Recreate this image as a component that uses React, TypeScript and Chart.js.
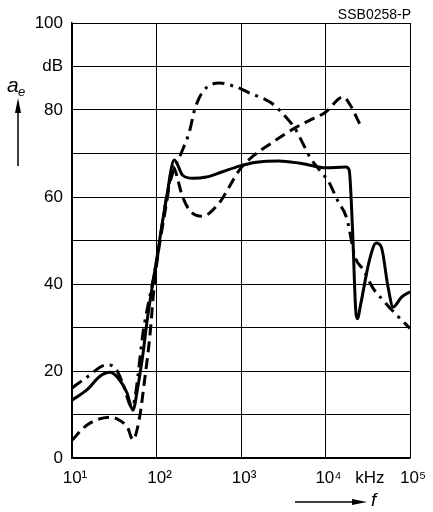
import React, { useEffect, useRef } from "react";
import { Chart, registerables } from "chart.js";

Chart.register(...registerables);

// frequency in kHz, attenuation in dB
const solidFreq = [10, 15.1, 21.4, 28.2, 34.7, 44.7, 52.5, 60.3, 69.2, 77.6, 100, 131.8, 162.2, 204, 269, 389, 603, 955, 1514, 2818, 4786, 8318, 10000, 17378, 19055, 20893, 22909, 23988, 25704, 33113, 39811, 45709, 54954, 63096, 79433, 100000];
const solidDb = [13.3, 15.7, 18.8, 19.7, 18.5, 15, 11, 16.5, 24, 31.7, 45.5, 60, 68.5, 65, 64.3, 64.6, 65.8, 67.1, 68, 68.3, 67.8, 66.9, 66.7, 66.9, 66.2, 52.4, 33.3, 32, 34.7, 45.5, 49.4, 48.5, 39.3, 34.7, 37, 38.2];

const dashedFreq = [10, 15.1, 28.2, 36.3, 45.7, 52.5, 63.1, 72.4, 83.2, 95.5, 134.9, 154.9, 204, 245, 347, 550, 724, 955, 1349, 2291, 4467, 6310, 10000, 16218, 19498, 25704];
const dashedDb = [4.1, 7.6, 9.4, 8.7, 6.9, 4.2, 9.4, 18, 27.8, 41, 60, 67, 60, 57, 55.6, 58.6, 62.3, 66.2, 69.2, 72.4, 76, 77.5, 79.5, 83, 81.2, 76.6];

const dashDotFreq = [10, 15.1, 25.7, 32.4, 39.8, 51.3, 70.8, 100, 131.8, 158.5, 195, 245, 282, 347, 550, 871, 1230, 2291, 3388, 4467, 5495, 6607, 8913, 10965, 14125, 17783, 22387, 28184, 36308, 47863, 66069, 100000];
const dashDotDb = [16.1, 18.6, 21.4, 20.7, 17.2, 11.7, 30, 45, 60, 66, 70, 75, 80, 84, 86.2, 85.3, 84, 81.6, 78.4, 75.4, 72, 69, 65.7, 63.4, 58.9, 55.2, 46.2, 43.2, 39.1, 36.3, 33.3, 29.8];

const xTickValues = [10, 100, 1000, 10000, 100000];
const xTickLabels = ["10\u00B9", "10\u00B2", "10\u00B3", "10\u2074", "10\u2075"];
const yTickValues = [0, 20, 40, 60, 80, 90, 100];
const yTickLabels = ["0", "20", "40", "60", "80", "dB", "100"];

const FONT = "'Liberation Sans', Arial, sans-serif";

function toPoints(xs: number[], ys: number[]) {
  return xs.map((x, i) => ({ x, y: ys[i] }));
}

const annotations = {
  id: "annotations",
  afterDraw(chart: any) {
    const ctx = chart.ctx as CanvasRenderingContext2D;
    const area = chart.chartArea;
    ctx.save();
    ctx.fillStyle = "#000";
    ctx.strokeStyle = "#000";
    ctx.font = `14px ${FONT}`;
    ctx.textAlign = "right";
    ctx.textBaseline = "alphabetic";
    ctx.fillText("SSB0258-P", area.right + 1, 19);

    // a_e label
    ctx.textAlign = "left";
    ctx.font = `italic 21px ${FONT}`;
    ctx.fillText("a", 7, 92);
    ctx.font = `italic 13px ${FONT}`;
    ctx.fillText("e", 18, 96);

    // vertical arrow
    ctx.lineWidth = 1.5;
    ctx.beginPath();
    ctx.moveTo(18, 166);
    ctx.lineTo(18, 110);
    ctx.stroke();
    ctx.beginPath();
    ctx.moveTo(18, 98);
    ctx.lineTo(15, 113);
    ctx.lineTo(21, 113);
    ctx.closePath();
    ctx.fill();

    // kHz
    const xs = chart.scales.x;
    ctx.font = `17px ${FONT}`;
    ctx.textAlign = "center";
    ctx.fillText("kHz", (xs.getPixelForValue(10000) + xs.getPixelForValue(100000)) / 2 + 2, 483);

    // horizontal arrow + f
    ctx.beginPath();
    ctx.moveTo(295, 502);
    ctx.lineTo(354, 502);
    ctx.stroke();
    ctx.beginPath();
    ctx.moveTo(367, 502);
    ctx.lineTo(352, 499);
    ctx.lineTo(352, 505);
    ctx.closePath();
    ctx.fill();
    ctx.font = `italic 19px ${FONT}`;
    ctx.textAlign = "left";
    ctx.fillText("f", 371, 506);
    ctx.restore();
  },
};

export default function App() {
  const ref = useRef<HTMLCanvasElement | null>(null);
  useEffect(() => {
    if (!ref.current) return;
    const common = {
      showLine: true,
      pointRadius: 0,
      borderColor: "#000",
      backgroundColor: "#000",
      borderWidth: 3,
      fill: false,
      cubicInterpolationMode: "monotone" as const,
      borderCapStyle: "butt" as const,
    };
    const chart = new Chart(ref.current, {
      type: "scatter",
      data: {
        datasets: [
          { ...common, label: "solid", data: toPoints(solidFreq, solidDb) },
          { ...common, label: "dashed", data: toPoints(dashedFreq, dashedDb), borderDash: [11, 6] },
          { ...common, label: "dash-dot", data: toPoints(dashDotFreq, dashDotDb), borderDash: [12, 6, 3, 6] },
        ],
      },
      options: {
        animation: false,
        responsive: false,
        devicePixelRatio: 1,
        layout: { padding: { left: 0, right: 21, top: 23, bottom: 0 } },
        plugins: { legend: { display: false }, tooltip: { enabled: false } },
        scales: {
          x: {
            type: "logarithmic",
            min: 10,
            max: 100000,
            afterBuildTicks: (scale: any) => {
              scale.ticks = xTickValues.map((v) => ({ value: v }));
            },
            afterFit: (scale: any) => {
              scale.height = 54;
            },
            ticks: {
              color: "#000",
              font: { family: FONT, size: 17 },
              padding: 10,
              maxRotation: 0,
              autoSkip: false,
              labelOffset: 3,
              callback: (v: any) => {
                const i = xTickValues.indexOf(Number(v));
                return i >= 0 ? xTickLabels[i] : "";
              },
            },
            grid: { color: "#000", lineWidth: 1, drawTicks: false },
            border: { color: "#000", width: 1.5 },
          },
          y: {
            type: "linear",
            min: 0,
            max: 100,
            afterFit: (scale: any) => {
              scale.width = 72;
            },
            ticks: {
              stepSize: 10,
              color: "#000",
              font: { family: FONT, size: 17 },
              padding: 9,
              callback: (v: any) => {
                const i = yTickValues.indexOf(Number(v));
                return i >= 0 ? yTickLabels[i] : "";
              },
            },
            grid: { color: "#000", lineWidth: 1, drawTicks: false },
            border: { color: "#000", width: 1.5 },
          },
        },
      },
      plugins: [annotations],
    } as any);
    return () => chart.destroy();
  }, []);
  return (
    <div style={{ position: "absolute", left: 0, top: 0, width: 433, height: 512, background: "#fff" }}>
      <canvas ref={ref} width={433} height={512} style={{ width: 433, height: 512 }} />
    </div>
  );
}
